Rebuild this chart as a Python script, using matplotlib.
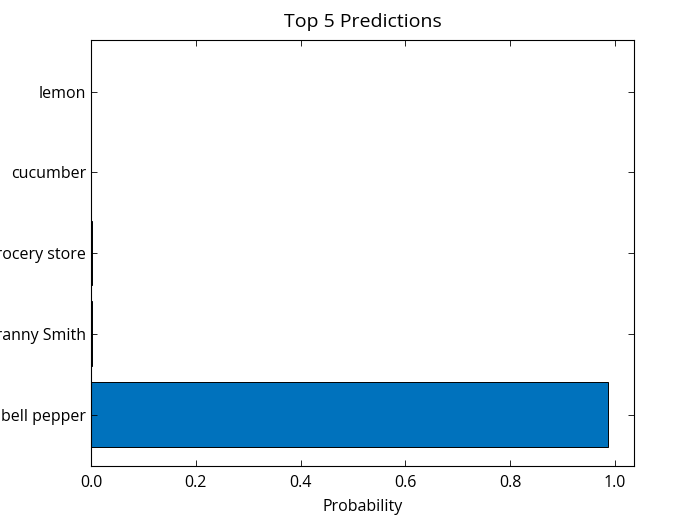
import numpy as np
import matplotlib
matplotlib.use("Agg")
import matplotlib.pyplot as plt

labels = ["bell pepper", "Granny Smith", "grocery store", "cucumber", "lemon"]
probs = [0.987, 0.0015, 0.001, 0.0006, 0.0004]

plt.rcParams['font.family'] = ['Open Sans', 'DejaVu Sans']
plt.rcParams['font.size'] = 11.5

fig = plt.figure(figsize=(7, 5.25), dpi=100)
ax = fig.add_axes([0.13, 0.112, 0.776, 0.812])

y = np.arange(len(labels))
ax.barh(y, probs, height=0.8, color='#0072BD', edgecolor='black', linewidth=0.7)
ax.set_yticks(y)
ax.set_yticklabels(labels)
ax.set_xlabel("Probability", labelpad=6)
ax.set_title("Top 5 Predictions", fontsize=14, pad=9)
ax.tick_params(direction='in', top=True, right=True, length=4, width=0.6)
ax.tick_params(axis='x', pad=6)
for s in ax.spines.values():
    s.set_linewidth(0.8)

fig.savefig("out.png", dpi=100)
